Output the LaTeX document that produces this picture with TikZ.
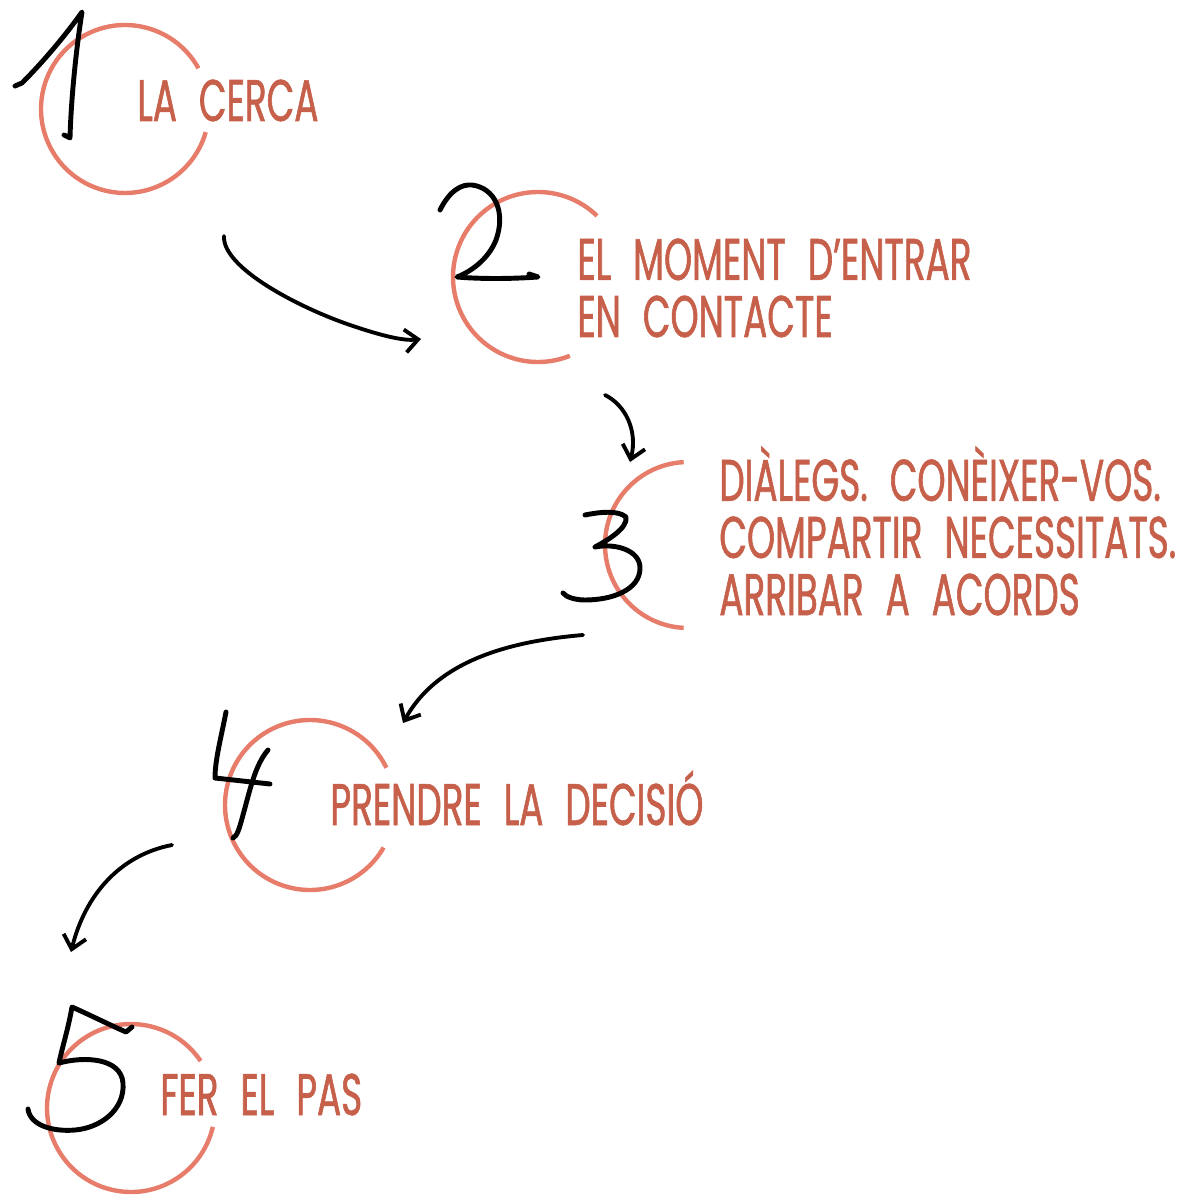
\documentclass[tikz,border=0pt]{standalone}
\usepackage{fontspec}
\setmainfont[FakeStretch=0.61, WordSpace=2.3, FakeBold=1]{Poppins}
\usepackage{tikz}
\usetikzlibrary{arrows.meta}
\definecolor{ringred}{HTML}{E67C69}
\definecolor{stepred}{HTML}{C6604A}
\tikzstyle{circ}=[%
      draw=ringred, line width=2.5pt
]
\tikzstyle{digit}=[%
      draw=black, line width=2.8pt, line cap=round, line join=round
]
\tikzstyle{lbl}=[%
      text=stepred, anchor=base west, inner sep=0pt, align=left,
      font=\fontsize{33.4}{32.5}\selectfont
]
\tikzstyle{flow}=[%
      draw=black, line width=2.2pt, line cap=round
]

\begin{document}
\begin{tikzpicture}[x=0.02cm, y=-0.02cm,
    -{Straight Barb[length=2.6mm,width=4.6mm]}
  ]
    \useasboundingbox (0,0) rectangle (1178,1195);

    % rings, open on the side of the text
    \coordinate (c1) at (125,109);
    \coordinate (c2) at (538,277);
    \coordinate (c3) at (688,545);
    \coordinate (c4) at (310,805);
    \coordinate (c5) at (131,1108);
    \draw[circ, -] ([shift={(29:1.68cm)}]c1) arc[start angle=29, end angle=344, radius=1.68cm];
    \draw[circ, -] ([shift={(46:1.70cm)}]c2) arc[start angle=46, end angle=292, radius=1.70cm];
    \draw[circ, -] ([shift={(93:1.66cm)}]c3) arc[start angle=93, end angle=267, radius=1.66cm];
    \draw[circ, -] ([shift={(26:1.70cm)}]c4) arc[start angle=26, end angle=330, radius=1.70cm];
    \draw[circ, -] ([shift={(34:1.68cm)}]c5) arc[start angle=34, end angle=347, radius=1.68cm];

    % steps (base = baseline of the last line)
    \node[lbl] (t1) at (137,121) {LA CERCA};
    \node[lbl] (t2) at (577,337) {EL MOMENT D’ENTRAR\\EN CONTACTE};
    \node[lbl] (t3) at (719,615) {DIÀLEGS. CONÈIXER-VOS.\\COMPARTIR NECESSITATS.\\ARRIBAR A ACORDS};
    \node[lbl] (t4) at (330,825) {PRENDRE LA DECISIÓ};
    \node[lbl] (t5) at (160,1115) {FER EL PAS};

    % hand written numbers
    \draw[digit, -] (15,86) -- (22,83) .. controls (45,60) and (68,32) .. (82,12)
          .. controls (76,50) and (71,100) .. (70,138) -- (64,135);
    \draw[digit, -] (440,210) .. controls (450,190) and (462,184) .. (472,185)
          .. controls (495,188) and (506,212) .. (496,240)
          .. controls (488,260) and (470,272) .. (457,277)
          .. controls (480,279) and (510,279) .. (538,277) -- (529,274);
    \draw[digit, -] (585,515) .. controls (600,512) and (618,510) .. (626,517)
          .. controls (628,528) and (608,540) .. (595,547)
          .. controls (615,543) and (640,550) .. (640,568)
          .. controls (640,590) and (612,600) .. (585,600)
          .. controls (575,600) and (566,597) .. (563,593);
    \draw[digit, -] (226,712) .. controls (221,738) and (215,760) .. (215,778) -- (270,784);
    \draw[digit, -] (268,750) .. controls (255,765) and (250,790) .. (243,815)
          .. controls (239,830) and (237,836) .. (233,838);
    \draw[digit, -] (132,1027) -- (126,1032) .. controls (110,1025) and (90,1015) .. (72,1007)
          .. controls (68,1030) and (62,1048) .. (59,1063)
          .. controls (85,1056) and (121,1058) .. (123,1083)
          .. controls (125,1110) and (100,1128) .. (75,1130)
          .. controls (52,1132) and (30,1125) .. (28,1109);

    % arrows between the steps
    \coordinate (a1) at (224,236);
    \coordinate (b1) at (421,339);
    \coordinate (a2) at (605,395);
    \coordinate (b2) at (630,462);
    \coordinate (a3) at (583,635);
    \coordinate (b3) at (403,723);
    \coordinate (a4) at (172,845);
    \coordinate (b4) at (71,952);
    \draw[flow] (a1) .. controls (222,268) and (300,308) .. (350,325)
          .. controls (385,337) and (405,341) .. (b1);
    \draw[flow] (a2) .. controls (625,405) and (638,430) .. (b2);
    \draw[flow] (a3) .. controls (500,642) and (435,665) .. (b3);
    \draw[flow] (a4) .. controls (120,855) and (85,895) .. (b4);

  \end{tikzpicture}
\end{document}
